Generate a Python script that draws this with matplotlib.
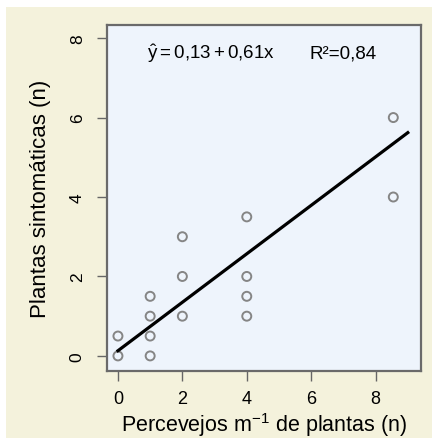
import matplotlib.pyplot as plt
from matplotlib.patches import Rectangle

plt.rcParams['font.family'] = ['Liberation Sans', 'DejaVu Sans']
plt.rcParams['mathtext.fontset'] = 'custom'
plt.rcParams['mathtext.rm'] = 'Liberation Sans'
plt.rcParams['mathtext.it'] = 'Liberation Sans'

# observed points
percevejos = [0, 0, 1, 1, 1, 1, 2, 2, 2, 4, 4, 4, 4, 8.55, 8.55]
plantas = [0, 0.5, 0, 0.5, 1, 1.5, 1, 2, 3, 1, 1.5, 2, 3.5, 6, 4]

# fitted line y = 0.13 + 0.61x
intercept = 0.13
slope = 0.61
fit_x = [0, 9.0]
fit_y = [intercept + slope * v for v in fit_x]

xticks = [0, 2, 4, 6, 8]
yticks = [0, 2, 4, 6, 8]

fig = plt.figure(figsize=(4.32, 4.39), dpi=100)
fig.patch.set_facecolor('#f4f2dc')
# white strips at top and left of the original picture
fig.add_artist(Rectangle((0, 431 / 439), 1, 1, transform=fig.transFigure,
                         facecolor='white', edgecolor='none', zorder=-5))
fig.add_artist(Rectangle((0, 0), 6 / 432, 1, transform=fig.transFigure,
                         facecolor='white', edgecolor='none', zorder=-5))

ax = fig.add_axes([107 / 432, 67 / 439, 314 / 432, 346 / 439])
ax.set_facecolor('#eef4fc')
ax.scatter(percevejos, plantas, s=42, facecolors='none', edgecolors='#858585', linewidths=1.4, zorder=3)
ax.plot(fit_x, fit_y, color='black', lw=2.3, zorder=4)

ax.set_xlim(-0.34, 9.41)
ax.set_ylim(-0.38, 8.33)
ax.set_xticks(xticks)
ax.set_yticks(yticks)
ax.set_xticklabels([str(v) for v in xticks], fontsize=13)
ax.set_yticklabels([str(v) for v in yticks], fontsize=12.5, rotation=90, va='center')
ax.tick_params(length=7, width=1, color='#666666')
ax.tick_params(axis='x', pad=7)
ax.tick_params(axis='y', pad=9)
for s in ax.spines.values():
    s.set_color('#6a6a6a')
    s.set_linewidth(1.6)

ax.set_xlabel('Percevejos m$^{-1}$ de plantas (n)', fontsize=15.5, va='center')
ax.xaxis.set_label_coords(0.5, -0.152)
ax.set_ylabel('Plantas sintomáticas (n)', fontsize=16, va='center')
ax.yaxis.set_label_coords(-0.213, 0.5)

ax.text(0.331, 0.919, r'$\hat{y} = 0{,}13 + 0{,}61x$', transform=ax.transAxes,
        ha='center', va='center', fontsize=13.5)
ax.text(0.752, 0.919, 'R²=0,84', transform=ax.transAxes,
        ha='center', va='center', fontsize=13.5)

fig.savefig('out.png', dpi=100, facecolor=fig.get_facecolor())
